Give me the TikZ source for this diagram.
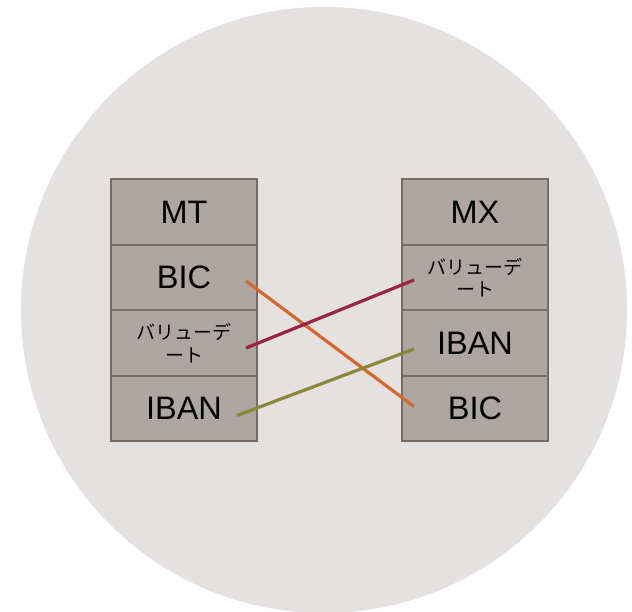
\documentclass[tikz,border=0pt]{standalone}
\usepackage{fontspec}
\setmainfont{Liberation Sans}
\newfontfamily\jpfont{Noto Sans CJK JP}
\usetikzlibrary{positioning}
\definecolor{bgcircle}{HTML}{E4E1E0}
\definecolor{cellfill}{HTML}{ADA6A2}
\definecolor{celldraw}{HTML}{776C65}
\definecolor{linkorange}{HTML}{D2692F}
\definecolor{linkred}{HTML}{9C2346}
\definecolor{linkolive}{HTML}{8B8737}
\tikzset{
  cell/.style={draw=celldraw,fill=cellfill,line width=2pt,minimum width=146pt,
    minimum height=65.5pt,inner sep=0pt,outer sep=0pt,font=\fontsize{32.5}{36}\selectfont},
  jp/.style={font=\jpfont\fontsize{19}{22.5}\selectfont,align=center},
  link/.style={line width=3.2pt}
}
\begin{document}
\begin{tikzpicture}[x=1pt,y=-1pt]
                %\draw[help lines] (0,0) grid[step=50] (632,612);
                \useasboundingbox (0,0) rectangle (632,612);
                \fill[bgcircle] (324,310) circle (303pt);
                % MT side
                \node[cell] (mt) at (184,212) {MT};
                \node[cell,below=0pt of mt] (mtbic) {BIC};
                \node[cell,jp,below=0pt of mtbic] (mtval) {バリューデ\\ート};
                \node[cell,below=0pt of mtval] (mtiban) {IBAN};
                % MX side
                \node[cell] (mx) at (475,212) {MX};
                \node[cell,jp,below=0pt of mx] (mxval) {バリューデ\\ート};
                \node[cell,below=0pt of mxval] (mxiban) {IBAN};
                \node[cell,below=0pt of mxiban] (mxbic) {BIC};
                % links
                \draw[link,linkorange] ([xshift=-11pt,yshift=-3.5pt]mtbic.east) -- ([xshift=12pt,yshift=2pt]mxbic.west);
                \draw[link,linkred] ([xshift=-11pt,yshift=-5pt]mtval.east) -- ([xshift=12pt,yshift=-2.5pt]mxval.west);
                \draw[link,linkolive] ([xshift=-20pt,yshift=-7pt]mtiban.east) -- ([xshift=12pt,yshift=-6pt]mxiban.west);
            \end{tikzpicture}
\end{document}
